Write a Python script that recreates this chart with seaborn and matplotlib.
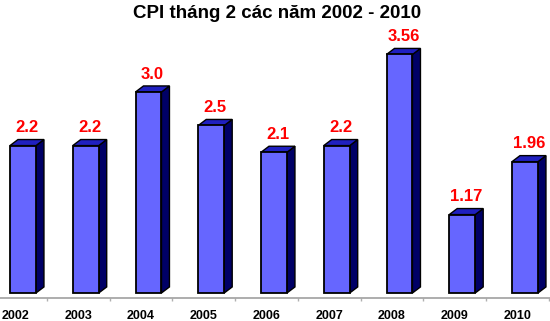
import matplotlib
matplotlib.use("Agg")
import matplotlib.pyplot as plt
from matplotlib.patches import Polygon
from matplotlib.ticker import FixedLocator
import seaborn as sns
import pandas as pd

years = ["2002", "2003", "2004", "2005", "2006", "2007", "2008", "2009", "2010"]
cpi = [2.2, 2.2, 3.0, 2.5, 2.1, 2.2, 3.56, 1.17, 1.96]
labels = ["2.2", "2.2", "3.0", "2.5", "2.1", "2.2", "3.56", "1.17", "1.96"]
title = "CPI tháng 2 các năm 2002 - 2010"

sns.set_style("white")
plt.rcParams["font.family"] = ["Liberation Sans", "DejaVu Sans"]

df = pd.DataFrame({"year": years, "cpi": cpi})

fig = plt.figure(figsize=(5.5, 3.21), dpi=100)
ax = fig.add_axes([0.0, 23 / 321, 1.0, 268 / 321])

front = "#6666FF"
side = "#000066"
topc = "#2020C0"
sns.barplot(data=df, x="year", y="cpi", order=years, color=front, saturation=1,
            width=0.414, edgecolor="black", linewidth=1.3, ax=ax, zorder=3)

dx, dy = 0.127, 0.09
for p, lab in zip(ax.patches, labels):
    x0 = p.get_x()
    w = p.get_width()
    h = p.get_height()
    x1 = x0 + w
    sidep = Polygon([(x1, 0), (x1 + dx, dy), (x1 + dx, h + dy), (x1, h)], closed=True,
                    facecolor=side, edgecolor="black", linewidth=1.0, zorder=2)
    topp = Polygon([(x0, h), (x0 + dx, h + dy), (x1 + dx, h + dy), (x1, h)], closed=True,
                   facecolor=topc, edgecolor="black", linewidth=1.0, zorder=2)
    ax.add_patch(sidep)
    ax.add_patch(topp)
    ax.annotate(lab, xy=(x0 + w / 2 + dx / 2, h + dy), xytext=(0, 3),
                textcoords="offset points", ha="center", va="bottom",
                color="#FF0000", fontsize=12, fontweight="bold")

n = len(years)
ax.set_xlim(-23 / 62.75, (550 - 23) / 62.75)
ax.set_ylim(-0.075, 3.925)
ax.xaxis.set_major_locator(FixedLocator([i - 0.12 for i in range(n)]))
ax.set_xticklabels(years, fontsize=9, fontweight="bold", color="black")
ax.xaxis.set_minor_locator(FixedLocator([i + 0.38 for i in range(n)]))
ax.tick_params(axis="x", which="major", length=0, pad=8.6)
ax.tick_params(axis="x", which="minor", length=2.5, width=1, color="#B0B0B0", direction="out", bottom=True)
ax.set_yticks([])
ax.set_xlabel("")
ax.set_ylabel("")
for s in ["top", "right", "left"]:
    ax.spines[s].set_visible(False)
ax.spines["bottom"].set_color("#A0A0A0")
ax.spines["bottom"].set_linewidth(1.2)

fig.text(0.504, (321 - 18) / 321, title, ha="center", va="baseline",
         fontsize=13.5, fontweight="bold", color="black")

fig.savefig("out.png", dpi=100)
